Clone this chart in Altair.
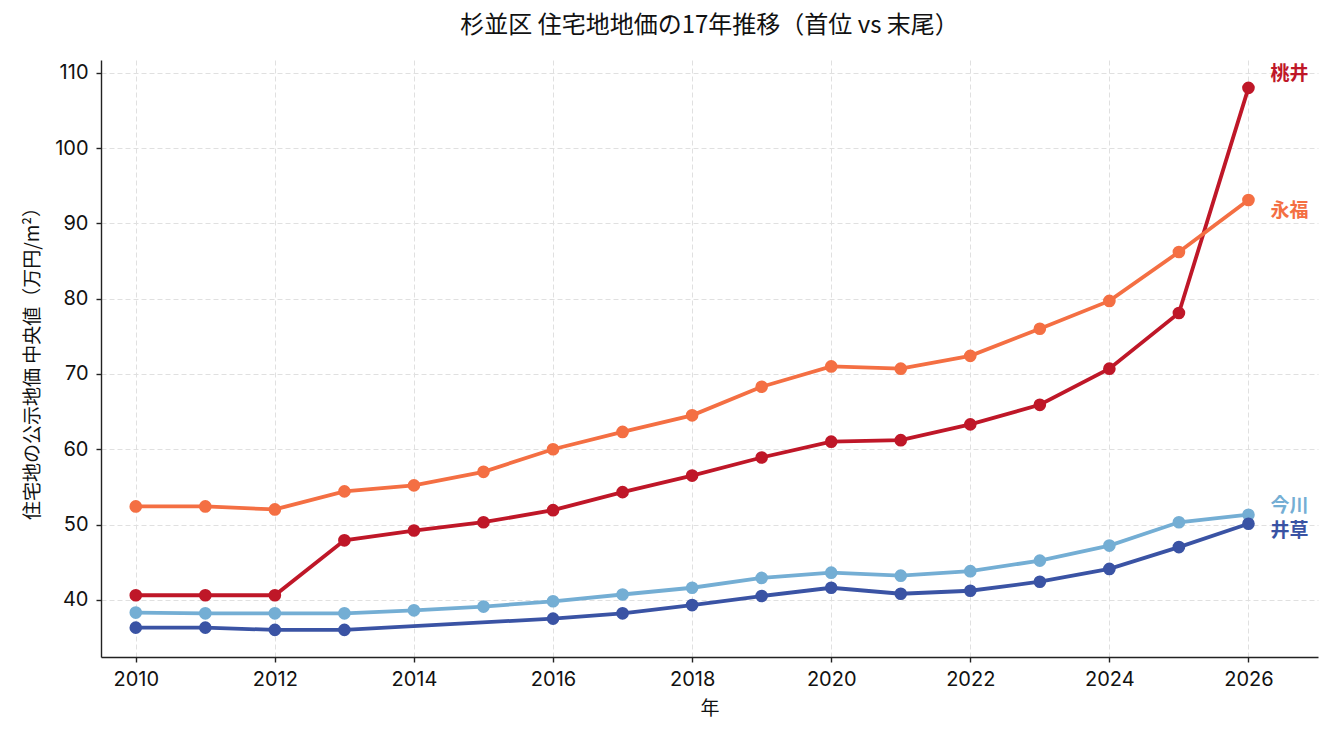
import altair as alt
import pandas as pd

years = list(range(2010, 2027))
momoi = [40.6, 40.6, 40.6, 47.9, 49.2, 50.3, 51.9, 54.3, 56.5, 58.9, 61.0, 61.2, 63.3, 65.9, 70.7, 78.1, 108.0]
eifuku = [52.4, 52.4, 52.0, 54.4, 55.2, 57.0, 60.0, 62.3, 64.5, 68.3, 71.0, 70.7, 72.4, 76.0, 79.7, 86.2, 93.1]
imagawa = [38.3, 38.2, 38.2, 38.2, 38.6, 39.1, 39.8, 40.7, 41.6, 42.9, 43.6, 43.2, 43.8, 45.2, 47.2, 50.3, 51.3]
igusa = [36.3, 36.3, 36.0, 36.0, None, None, 37.5, 38.2, 39.3, 40.5, 41.6, 40.8, 41.2, 42.4, 44.1, 47.0, 50.1]

series_names = ["桃井", "永福", "今川", "井草"]
series_values = [momoi, eifuku, imagawa, igusa]
series_colors = ["#bf1728", "#f46f43", "#74aed4", "#3a53a4"]
label_dy = [-14, 11, -9, 7]

FONT = "Noto Sans CJK JP"
NUMFONT = "Inter"

x_scale = alt.Scale(domain=[2009.5, 2027.0], nice=False, zero=False)
y_scale = alt.Scale(domain=[32.4, 111.7], nice=False, zero=False)

common = dict(grid=True, gridDash=[5, 3], gridColor="#e0e0e0", gridWidth=1,
              domainColor="#222222", domainWidth=1.4, tickColor="#222222",
              tickSize=5, tickWidth=1.4, labelFontSize=20, labelColor="#111111",
              titleFontSize=19, titleFontWeight="normal", titleColor="#111111",
              labelFont=NUMFONT, titleFont=FONT)
x_axis = alt.Axis(values=list(range(2010, 2027, 2)), format="d", title="年",
                  labelPadding=7, titlePadding=10, **common)
y_axis = alt.Axis(values=list(range(40, 111, 10)), title="住宅地の公示地価 中央値（万円/m²）",
                  labelPadding=8, titlePadding=12, **common)

layers = []
for name, vals, col, dy in zip(series_names, series_values, series_colors, label_dy):
    df = pd.DataFrame({"year": years, "value": vals, "name": name}).dropna()
    base = alt.Chart(df)
    enc = dict(x=alt.X("year:Q", scale=x_scale, axis=x_axis),
               y=alt.Y("value:Q", scale=y_scale, axis=y_axis))
    line = base.mark_line(color=col, strokeWidth=3.8).encode(**enc)
    pts = base.mark_circle(color=col, size=160, opacity=1).encode(**enc)
    last = df[df["year"] == df["year"].max()]
    lab = alt.Chart(last).mark_text(color=col, align="left", baseline="middle", dx=22, dy=dy,
                                    fontSize=19, fontWeight="bold", font=FONT).encode(
        text="name:N", **enc)
    layers += [line, pts, lab]

chart = alt.layer(*layers).properties(
    width=1217, height=597,
    background="white",
    title=alt.TitleParams("杉並区 住宅地地価の17年推移（首位 vs 末尾）", fontSize=24,
                          fontWeight="normal", font=FONT, color="#111111", offset=22, anchor="middle"),
    autosize=alt.AutoSizeParams(type="none"),
    padding={"left": 101, "top": 60, "right": 17, "bottom": 78},
).configure_view(strokeWidth=0, stroke=None)

chart.save("out.html", embed_options={"renderer": "svg", "actions": False})
